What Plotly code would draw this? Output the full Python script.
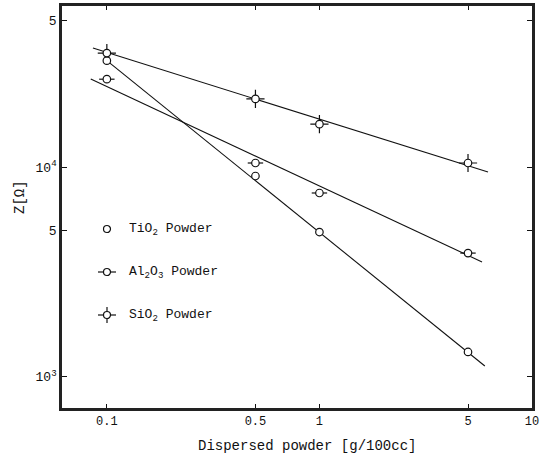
import plotly.graph_objects as go

# ---- data ----
conc = [0.1, 0.5, 1, 5]                      # g/100cc
tio2 = [32100, 9060, 4900, 1315]             # Ohm
al2o3 = [26200, 10450, 7520, 3890]
sio2 = [34900, 21100, 16000, 10450]

# fitted lines (end points)
tio2_fit_x = [0.1, 6.0]
tio2_fit_y = [32100, 1128]
al2o3_fit_x = [0.084, 5.82]
al2o3_fit_y = [26240, 3530]
sio2_fit_x = [0.086, 6.21]
sio2_fit_y = [36880, 9460]

xtick_vals = [0.1, 0.5, 1, 5, 10]
xtick_text = ["0.1", "0.5", "1", "5", "10"]
ytick_vals = [1000, 5000, 10000, 50000]
ytick_text = ["10<sup>3</sup>", "5", "10<sup>4</sup>", "5"]

FONT = "Liberation Mono"
INK = "#111111"

fig = go.Figure()

# lines
for fx, fy in [(tio2_fit_x, tio2_fit_y), (al2o3_fit_x, al2o3_fit_y), (sio2_fit_x, sio2_fit_y)]:
    fig.add_trace(go.Scatter(x=fx, y=fy, mode="lines",
                             line=dict(color=INK, width=1.1), showlegend=False, hoverinfo="skip"))

# marker tick decorations
fig.add_trace(go.Scatter(x=conc, y=al2o3, mode="markers", showlegend=False,
                         marker=dict(symbol="line-ew", size=11, line=dict(color=INK, width=1.2))))
fig.add_trace(go.Scatter(x=conc, y=sio2, mode="markers", showlegend=False,
                         marker=dict(symbol="cross-thin", size=13, line=dict(color=INK, width=1.2))))
# circles
for ys in [tio2, al2o3, sio2]:
    fig.add_trace(go.Scatter(x=conc, y=ys, mode="markers", showlegend=False,
                             marker=dict(symbol="circle", size=7.5, color="white",
                                         line=dict(color=INK, width=1.2))))

# ---- legend drawn by hand (paper coords) ----
L, R, T, B = 62, 532, 6, 408
def px(xp):
    return (xp - L) / (R - L)
def py(yp):
    return (B - yp) / (B - T)

shapes = []
leg_rows = [229, 272, 315]
leg_x = 107
for i, yrow in enumerate(leg_rows):
    if i >= 1:
        shapes.append(dict(type="line", xref="paper", yref="paper", xsizemode="pixel", ysizemode="pixel",
                           xanchor=px(leg_x), yanchor=py(yrow), x0=-9, x1=9, y0=0, y1=0,
                           line=dict(color=INK, width=1.2)))
    if i == 2:
        shapes.append(dict(type="line", xref="paper", yref="paper", xsizemode="pixel", ysizemode="pixel",
                           xanchor=px(leg_x), yanchor=py(yrow), x0=0, x1=0, y0=-8, y1=8,
                           line=dict(color=INK, width=1.2)))
    shapes.append(dict(type="circle", xref="paper", yref="paper", xsizemode="pixel", ysizemode="pixel",
                       xanchor=px(leg_x), yanchor=py(yrow), x0=-3.5, x1=3.5, y0=-3.5, y1=3.5,
                       fillcolor="white", line=dict(color=INK, width=1.2)))

leg_text = ["TiO<sub>2</sub> Powder", "Al<sub>2</sub>O<sub>3</sub> Powder", "SiO<sub>2</sub> Powder"]
annotations = []
for t, yrow in zip(leg_text, leg_rows):
    annotations.append(dict(text=t, xref="paper", yref="paper", x=px(127), y=py(yrow),
                            xanchor="left", yanchor="middle", showarrow=False,
                            font=dict(family=FONT, size=13, color=INK)))

annotations.append(dict(text="Dispersed powder [g/100cc]", xref="paper", yref="paper",
                        x=px(307), y=py(446), xanchor="center", yanchor="middle", showarrow=False,
                        font=dict(family=FONT, size=14, color=INK)))
annotations.append(dict(text="Z[Ω]", xref="paper", yref="paper", textangle=-90,
                        x=px(20), y=py(197), xanchor="center", yanchor="middle", showarrow=False,
                        font=dict(family=FONT, size=14, color=INK)))

fig.update_layout(
    width=547, height=459,
    margin=dict(l=L, r=547 - R, t=T, b=459 - B),
    paper_bgcolor="white", plot_bgcolor="white",
    showlegend=False,
    shapes=shapes, annotations=annotations,
    xaxis=dict(type="log", range=[-1.211, 1.0], tickvals=xtick_vals, ticktext=xtick_text,
               ticks="inside", ticklen=4, tickcolor=INK, tickwidth=1, mirror="ticks",
               showline=True, linecolor="#222222", linewidth=2.5, showgrid=False, zeroline=False,
               automargin=False,
               tickfont=dict(family=FONT, size=12, color=INK)),
    yaxis=dict(type="log", range=[2.852, 4.767], tickvals=ytick_vals, ticktext=ytick_text,
               ticks="inside", ticklen=5, tickcolor=INK, tickwidth=1, mirror="ticks",
               showline=True, linecolor="#222222", linewidth=2.5, showgrid=False, zeroline=False,
               automargin=False,
               tickfont=dict(family=FONT, size=13, color=INK)),
)

fig.write_html("out.html", config={"displayModeBar": False},
               post_script="document.body.style.margin='0px';document.body.style.overflow='hidden';")
